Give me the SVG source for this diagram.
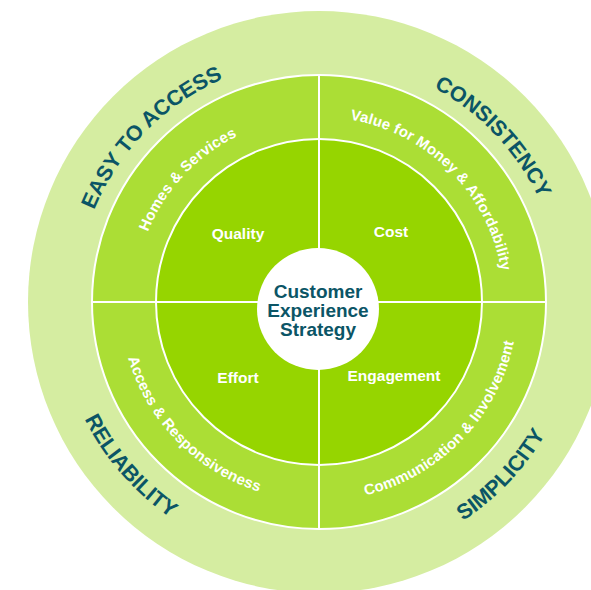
<svg xmlns="http://www.w3.org/2000/svg" width="591" height="590" viewBox="0 0 591 590">
  <style>
    .ring-outer { fill: #d5eda1; }
    .ring-mid { fill: #abde35; stroke: #ffffff; stroke-width: 2; }
    .ring-inner { fill: #96d500; stroke: #ffffff; stroke-width: 2; }
    .divider { stroke: #ffffff; stroke-width: 2; fill: none; }
    .hub { fill: #ffffff; }
    .theme { font-family: "Liberation Sans", Arial, sans-serif; font-weight: bold; font-size: 21.5px; fill: #0b5566; }
    .area { font-family: "Liberation Sans", Arial, sans-serif; font-weight: bold; font-size: 15px; fill: #ffffff; letter-spacing: 0.2px; }
    .pillar { font-family: "Liberation Sans", Arial, sans-serif; font-weight: bold; font-size: 15.5px; fill: #ffffff; text-anchor: middle; }
    .hub-text { font-family: "Liberation Sans", Arial, sans-serif; font-weight: bold; font-size: 19px; fill: #0b5566; text-anchor: middle; }
  </style>
  <defs>
    <!-- arcs centred on the top (clockwise) and bottom (counter-clockwise) of the wheel -->
    <path id="arcTop243" d="M 76 302 A 243 243 0 0 1 562 302"/>
    <path id="arcBot262" d="M 57 302 A 262 262 0 0 0 581 302"/>
    <path id="arcTop185" d="M 134 302 A 185 185 0 0 1 504 302"/>
    <path id="arcBot199" d="M 120 302 A 199 199 0 0 0 518 302"/>
  </defs>

  <!-- concentric rings -->
  <g id="wheel">
    <circle class="ring-outer" cx="319" cy="302" r="291"/>
    <circle class="ring-mid" cx="319" cy="302" r="227"/>
    <circle class="ring-inner" cx="319" cy="302" r="163"/>
  </g>

  <!-- quadrant dividers -->
  <g id="connectors">
    <line class="divider" x1="319" y1="75" x2="319" y2="529"/>
    <line class="divider" x1="92" y1="302" x2="546" y2="302"/>
  </g>

  <!-- outer themes -->
  <g id="theme-easy-to-access" transform="rotate(-45.5 319 302)">
    <text class="theme"><textPath href="#arcTop243" startOffset="50%" text-anchor="middle">EASY TO ACCESS</textPath></text>
  </g>
  <g id="theme-consistency" transform="rotate(46.5 319 302)">
    <text class="theme"><textPath href="#arcTop243" startOffset="50%" text-anchor="middle">CONSISTENCY</textPath></text>
  </g>
  <g id="theme-reliability" transform="rotate(49 319 302)">
    <text class="theme"><textPath href="#arcBot262" startOffset="50%" text-anchor="middle">RELIABILITY</textPath></text>
  </g>
  <g id="theme-simplicity" transform="rotate(-46.5 319 302)">
    <text class="theme"><textPath href="#arcBot262" startOffset="50%" text-anchor="middle">SIMPLICITY</textPath></text>
  </g>

  <!-- middle focus areas -->
  <g id="area-homes" transform="rotate(-47 319 302)">
    <text class="area"><textPath href="#arcTop185" startOffset="50%" text-anchor="middle">Homes &amp; Services</textPath></text>
  </g>
  <g id="area-value" transform="rotate(45 319 302)">
    <text class="area"><textPath href="#arcTop185" startOffset="50%" text-anchor="middle">Value for Money &amp; Affordability</textPath></text>
  </g>
  <g id="area-access" transform="rotate(45.6 319 302)">
    <text class="area"><textPath href="#arcBot199" startOffset="50%" text-anchor="middle">Access &amp; Responsiveness</textPath></text>
  </g>
  <g id="area-communication" transform="rotate(-46 319 302)">
    <text class="area"><textPath href="#arcBot199" startOffset="50%" text-anchor="middle">Communication &amp; Involvement</textPath></text>
  </g>

  <!-- inner pillars -->
  <g id="pillar-quality"><text class="pillar" x="238" y="239">Quality</text></g>
  <g id="pillar-cost"><text class="pillar" x="391" y="237">Cost</text></g>
  <g id="pillar-effort"><text class="pillar" x="238" y="383">Effort</text></g>
  <g id="pillar-engagement"><text class="pillar" x="394" y="381">Engagement</text></g>

  <!-- hub -->
  <g id="hub">
    <circle class="hub" cx="318" cy="309" r="61"/>
    <text class="hub-text" x="318" y="298">Customer</text>
    <text class="hub-text" x="318" y="317">Experience</text>
    <text class="hub-text" x="318" y="336">Strategy</text>
  </g>
</svg>
